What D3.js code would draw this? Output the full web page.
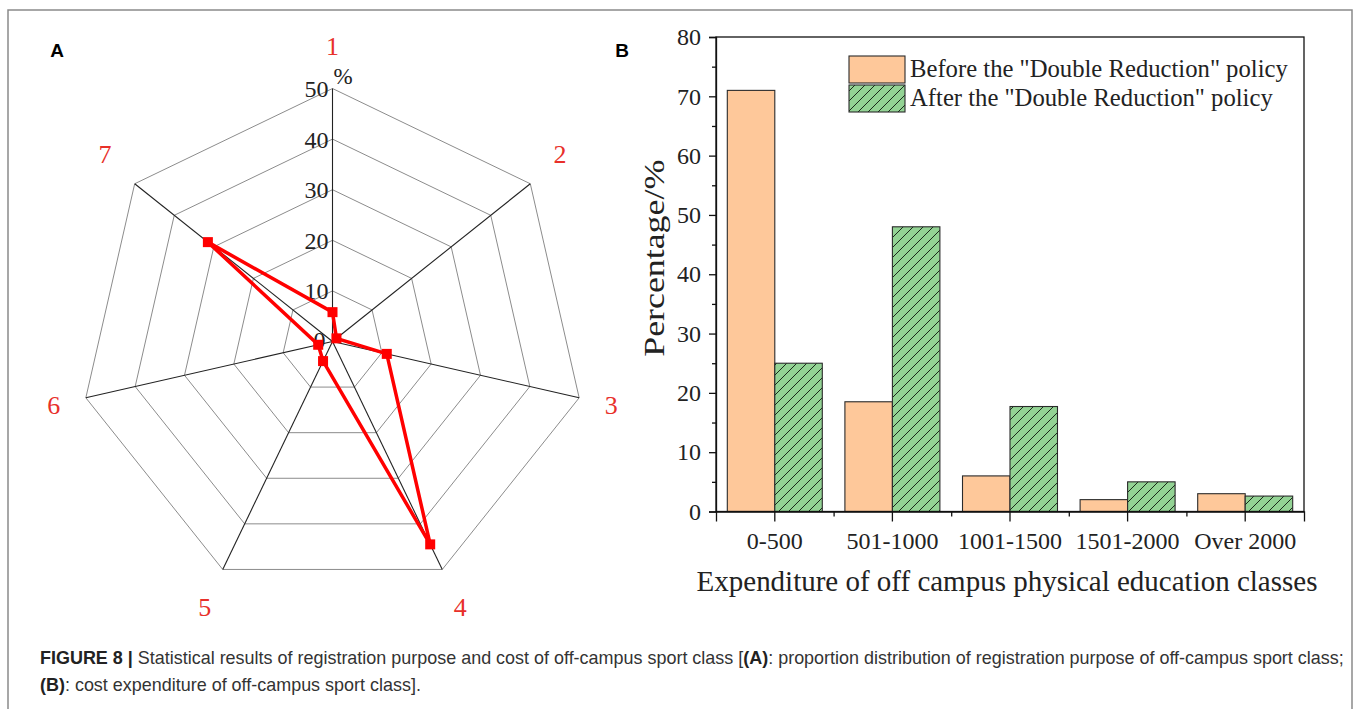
<!DOCTYPE html>
<html>
<head>
<meta charset="utf-8">
<script src="https://cdn.jsdelivr.net/npm/d3@7"></script>
<style>
  html, body { margin: 0; padding: 0; background: #fff; }
  svg { display: block; }
</style>
</head>
<body>
<svg id="fig" width="1362" height="709"></svg>
<script>
// Panel A: registration purposes (radar), share in %
const purposes = ["1", "2", "3", "4", "5", "6", "7"];
const purposeShare = [5.8, 1, 11, 44.5, 4.3, 2.9, 31.5];
const radarTicks = [0, 10, 20, 30, 40, 50];

// Panel B: expenditure bands (bar chart), share in %
const costBands = ["0-500", "501-1000", "1001-1500", "1501-2000", "Over 2000"];
const beforePolicy = [71, 18.5, 6, 2, 3];
const afterPolicy = [25, 48, 17.7, 5, 2.6];
const seriesNames = ["Before the \"Double Reduction\" policy", "After the \"Double Reduction\" policy"];
const yTicks = [0, 10, 20, 30, 40, 50, 60, 70, 80];

const svg = d3.select("#fig");
const serif = "'Liberation Serif', 'Times New Roman', serif";
const sans = "'Liberation Sans', Arial, sans-serif";

// scale a text element's font so that it spans the given width
function fitWidth(sel, size, width) {
  const w = sel.node().getComputedTextLength();
  sel.attr("font-size", size * width / w);
}

// figure frame
svg.append("path")
  .attr("d", "M8,709 L8,10 L1352,10 L1352,709")
  .attr("fill", "none").attr("stroke", "#8a8a8a").attr("stroke-width", 1.5);

// panel letters
svg.append("text").attr("x", 57).attr("y", 57).attr("text-anchor", "middle")
  .attr("font-family", sans).attr("font-weight", "bold").attr("font-size", 19).text("A");
svg.append("text").attr("x", 622).attr("y", 57).attr("text-anchor", "middle")
  .attr("font-family", sans).attr("font-weight", "bold").attr("font-size", 19).text("B");

// ---------- Radar ----------
const cx = 332.5, cy = 341.5, R = 253;
const r = d3.scaleLinear().domain([0, 50]).range([0, R]);
const ang = d3.scalePoint().domain(purposes).range([0, 2 * Math.PI * (purposes.length - 1) / purposes.length]);
const pt = (k, v) => [cx + Math.sin(ang(k)) * r(v), cy - Math.cos(ang(k)) * r(v)];

const radar = svg.append("g");
// rings
radarTicks.filter(t => t > 0).forEach(t => {
  radar.append("polygon")
    .attr("points", purposes.map(k => pt(k, t).join(",")).join(" "))
    .attr("fill", "none").attr("stroke", "#8c8c8c").attr("stroke-width", 1);
});
// spokes
purposes.forEach(k => {
  const [x, y] = pt(k, 50);
  radar.append("line").attr("x1", cx).attr("y1", cy).attr("x2", x).attr("y2", y)
    .attr("stroke", "#222").attr("stroke-width", 1.1);
});
// ring values
radarTicks.forEach(t => {
  radar.append("text")
    .attr("x", t === 0 ? cx - 7 : cx - 4)
    .attr("y", cy - r(t) + (t === 0 ? -2 : 0))
    .attr("dy", "0.35em")
    .attr("text-anchor", "end")
    .attr("font-family", serif).attr("font-size", 24).attr("fill", "#222")
    .text(t);
});
radar.append("text").attr("x", cx + 1).attr("y", cy - r(50) - 5)
  .attr("font-family", serif).attr("font-size", 23).attr("fill", "#222").text("%");
// category labels
purposes.forEach(k => {
  const a = ang(k);
  const rr = R + 30 + 13 * Math.abs(Math.cos(a));
  const lift = Math.cos(a) > 0 && Math.abs(Math.sin(a)) > 0.5 ? 6 : 0;
  radar.append("text")
    .attr("x", cx + Math.sin(a) * rr)
    .attr("y", cy - Math.cos(a) * rr - lift)
    .attr("dy", "0.35em").attr("text-anchor", "middle")
    .attr("font-family", serif).attr("font-size", 26).attr("fill", "#e8302a")
    .text(k);
});
// data polygon
const pts = purposes.map((k, i) => pt(k, purposeShare[i]));
radar.append("path")
  .attr("d", d3.line().curve(d3.curveLinearClosed)(pts))
  .attr("fill", "none").attr("stroke", "#ff0000").attr("stroke-width", 3.5)
  .attr("stroke-linejoin", "miter");
radar.selectAll("rect.mk").data(pts).join("rect").attr("class", "mk")
  .attr("x", d => d[0] - 5).attr("y", d => d[1] - 5)
  .attr("width", 10).attr("height", 10).attr("fill", "#ff0000");

// ---------- Bar chart ----------
const x0 = 716, x1 = 1304, yTop = 37, yBot = 511.5;
const x = d3.scaleBand().domain(costBands).range([x0, x1]).padding(0);
const xs = d3.scaleBand().domain([0, 1]).range([0, x.bandwidth()]).paddingInner(0).paddingOuter(0.238);
const y = d3.scaleLinear().domain([0, 80]).range([yBot, yTop]);

const defs = svg.append("defs");
const pat = defs.append("pattern").attr("id", "hatch").attr("patternUnits", "userSpaceOnUse")
  .attr("width", 10).attr("height", 10);
pat.append("rect").attr("width", 10).attr("height", 10).attr("fill", "#93d394");
pat.append("path").attr("d", "M-2,2 L2,-2 M0,10 L10,0 M8,12 L12,8")
  .attr("stroke", "#1a2a1a").attr("stroke-width", 1);

const fills = ["#fec89a", "url(#hatch)"];
const series = [beforePolicy, afterPolicy];
const bars = svg.append("g");
series.forEach((vals, s) => {
  bars.selectAll(null).data(vals).join("rect")
    .attr("x", (d, i) => x(costBands[i]) + xs(s))
    .attr("y", d => y(d))
    .attr("width", xs.bandwidth())
    .attr("height", d => y(0) - y(d))
    .attr("fill", fills[s])
    .attr("stroke", "#2b2b2b").attr("stroke-width", 1.1);
});

// plot frame
svg.append("rect").attr("x", x0).attr("y", yTop).attr("width", x1 - x0).attr("height", yBot - yTop)
  .attr("fill", "none").attr("stroke", "#111").attr("stroke-width", 1.3);

// y axis
svg.append("g").attr("transform", `translate(${x0},0)`)
  .call(d3.axisLeft(y).tickValues(yTicks).tickSize(7).tickPadding(8));
svg.append("g").attr("transform", `translate(${x0},0)`)
  .call(d3.axisLeft(y).tickValues(d3.range(5, 80, 10)).tickSize(4).tickFormat(""))
  .call(g => g.select(".domain").remove());
// x axis
svg.append("g").attr("transform", `translate(0,${yBot})`)
  .call(d3.axisBottom(x).tickSize(10).tickPadding(10));
const xb = d3.scaleLinear().domain([0, costBands.length]).range([x0, x1]);
svg.append("g").attr("transform", `translate(0,${yBot})`)
  .call(d3.axisBottom(xb).tickValues([1, 2, 3, 4]).tickSize(5).tickFormat(""))
  .call(g => g.select(".domain").remove());
svg.selectAll(".tick line, .domain").attr("stroke", "#111").attr("stroke-width", 1.3);
svg.selectAll(".tick text").attr("font-family", serif).attr("font-size", 24).attr("fill", "#222");

// axis titles
svg.append("text")
  .attr("transform", `translate(664,${(yTop + yBot) / 2 - 16}) rotate(-90)`)
  .attr("text-anchor", "middle").attr("font-family", serif).attr("font-size", 29).attr("fill", "#222")
  .attr("textLength", 197).attr("lengthAdjust", "spacingAndGlyphs")
  .text("Percentage/%");
const xTitle = svg.append("text").attr("x", 1007).attr("y", 591)
  .attr("text-anchor", "middle").attr("font-family", serif).attr("font-size", 28).attr("fill", "#222")
  .text("Expenditure of off campus physical education classes");
fitWidth(xTitle, 28, 621);

// legend
const legend = svg.append("g");
seriesNames.forEach((name, s) => {
  const ly = 56 + s * 29;
  legend.append("rect").attr("x", 849).attr("y", ly).attr("width", 56).attr("height", 27)
    .attr("fill", fills[s]).attr("stroke", "#2b2b2b").attr("stroke-width", 1.1);
  const t = legend.append("text").attr("x", 910).attr("y", ly + 21)
    .attr("font-family", serif).attr("font-size", 23).attr("fill", "#222").text(name);
  if (s === 0) fitWidth(t, 23, 378);
  else t.attr("font-size", legend.select("text").attr("font-size"));
});

// caption
const cap = svg.append("g").attr("transform", "translate(40,0)");
const line1 = cap.append("text").attr("x", 0).attr("y", 664)
  .attr("font-family", sans).attr("font-size", 18).attr("fill", "#333");
line1.append("tspan").attr("font-weight", "bold").attr("fill", "#222").text("FIGURE 8 | ");
line1.append("tspan").text("Statistical results of registration purpose and cost of off-campus sport class [");
line1.append("tspan").attr("font-weight", "bold").attr("fill", "#222").text("(A)");
line1.append("tspan").text(": proportion distribution of registration purpose of off-campus sport class;");
const line2 = cap.append("text").attr("x", 0).attr("y", 691)
  .attr("font-family", sans).attr("font-size", 18).attr("fill", "#333");
line2.append("tspan").attr("font-weight", "bold").attr("fill", "#222").text("(B)");
line2.append("tspan").text(": cost expenditure of off-campus sport class].");
{
  const w = line1.node().getComputedTextLength();
  const sx = 1305 / w;
  line1.attr("transform", `scale(${sx},1)`);
  line2.attr("transform", `scale(${sx},1)`);
}
</script>
</body>
</html>
